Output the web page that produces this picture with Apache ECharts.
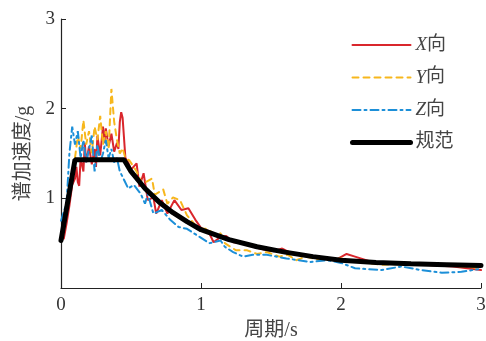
<!DOCTYPE html>
<html>
<head>
<meta charset="utf-8">
<script src="https://cdn.jsdelivr.net/npm/echarts@6/dist/echarts.min.js"></script>
<style>
  html, body { margin: 0; padding: 0; background: #fff; }
  #chart { width: 486px; height: 341px; }
</style>
</head>
<body>
<div id="chart"></div>
<script>
// [周期 s, 谱加速度 g]
const seriesX = [[0.02,0.55],[0.04,0.72],[0.06,0.92],[0.08,1.15],[0.1,1.22],[0.11,1.35],[0.12,1.18],[0.13,1.14],[0.14,1.45],[0.16,1.3],[0.17,1.62],[0.18,1.4],[0.2,1.58],[0.22,1.38],[0.24,1.55],[0.25,1.35],[0.26,1.7],[0.28,1.48],[0.3,1.8],[0.31,1.62],[0.32,1.78],[0.34,1.58],[0.36,1.72],[0.38,1.52],[0.4,1.62],[0.41,1.55],[0.42,1.85],[0.43,1.96],[0.44,1.9],[0.46,1.45],[0.48,1.4],[0.5,1.32],[0.54,1.39],[0.56,1.13],[0.59,1.28],[0.62,0.98],[0.66,1.01],[0.68,0.83],[0.72,0.98],[0.76,0.83],[0.81,0.98],[0.86,0.87],[0.91,0.89],[0.96,0.76],[1.0,0.67],[1.05,0.64],[1.09,0.51],[1.14,0.57],[1.18,0.58],[1.23,0.51],[1.3,0.5],[1.37,0.46],[1.47,0.42],[1.52,0.41],[1.58,0.44],[1.63,0.4],[1.71,0.37],[1.8,0.35],[1.9,0.33],[1.97,0.32],[2.04,0.38],[2.1,0.35],[2.22,0.29],[2.4,0.27],[2.6,0.26],[2.8,0.24],[2.9,0.22],[3.0,0.2]];
const seriesY = [[0.04,0.85],[0.06,1.1],[0.08,1.3],[0.1,1.45],[0.12,1.7],[0.14,1.55],[0.16,1.87],[0.18,1.6],[0.2,1.75],[0.22,1.5],[0.24,1.8],[0.26,1.65],[0.28,1.92],[0.3,1.6],[0.32,1.75],[0.34,1.55],[0.36,2.22],[0.38,1.85],[0.4,1.65],[0.42,1.5],[0.44,1.56],[0.46,1.45],[0.49,1.42],[0.54,1.3],[0.58,1.16],[0.65,1.22],[0.67,1.04],[0.73,1.1],[0.76,0.94],[0.8,1.01],[0.85,0.98],[0.9,0.81],[0.96,0.7],[1.0,0.66],[1.04,0.66],[1.1,0.6],[1.14,0.61],[1.17,0.5],[1.25,0.42],[1.33,0.42],[1.4,0.38],[1.47,0.4],[1.56,0.35],[1.62,0.37],[1.68,0.31],[1.75,0.35],[1.85,0.31],[2.0,0.33],[2.1,0.29],[2.3,0.26],[2.5,0.27],[2.7,0.25],[2.9,0.24],[3.0,0.22]];
const seriesZ = [[0.0,0.75],[0.02,0.85],[0.04,0.95],[0.06,1.5],[0.08,1.8],[0.1,1.6],[0.12,1.75],[0.14,1.45],[0.16,1.65],[0.18,1.4],[0.2,1.55],[0.22,1.7],[0.24,1.3],[0.26,1.6],[0.28,1.4],[0.3,1.5],[0.32,1.65],[0.34,1.45],[0.36,1.55],[0.38,1.4],[0.4,1.45],[0.42,1.3],[0.44,1.24],[0.48,1.11],[0.52,1.15],[0.57,1.05],[0.6,0.94],[0.62,1.05],[0.66,0.83],[0.72,0.87],[0.78,0.76],[0.84,0.68],[0.9,0.66],[0.99,0.57],[1.06,0.5],[1.14,0.53],[1.17,0.46],[1.23,0.4],[1.3,0.35],[1.37,0.37],[1.47,0.37],[1.61,0.33],[1.78,0.29],[1.9,0.31],[2.0,0.28],[2.1,0.22],[2.29,0.2],[2.43,0.24],[2.57,0.2],[2.72,0.17],[2.86,0.18],[2.98,0.21]];
const seriesCode = [[0,0.53],[0.1,1.43],[0.45,1.43],[0.5,1.3],[0.6,1.11],[0.7,0.96],[0.8,0.84],[0.9,0.74],[1.0,0.65],[1.2,0.54],[1.4,0.46],[1.6,0.4],[1.8,0.35],[2.0,0.31],[2.25,0.285],[2.5,0.27],[2.75,0.26],[3.0,0.25]];

const names = ['X向', 'Y向', 'Z向', '规范'];
const colors = ['#d9262c', '#f7b71d', '#1c8fd8', '#000000'];
const serif = 'Liberation Serif, Noto Sans CJK SC';

const chart = echarts.init(document.getElementById('chart'));

function line(name, data, color, width, type) {
  return {
    name: name,
    type: 'line',
    data: data,
    symbol: 'none',
    color: color,
    lineStyle: { color: color, width: width, type: type, cap: 'round' },
    z: name === '规范' ? 5 : 2
  };
}

chart.setOption({
  animation: false,
  grid: { left: 61, right: 5, top: 19, bottom: 53, outerBoundsMode: 'none' },
  legend: {
    orient: 'vertical',
    left: 350,
    top: 35,
    padding: 0,
    itemWidth: 58,
    itemHeight: 20,
    itemGap: 12.5,
    data: names,
    itemStyle: { opacity: 0 },
    lineStyle: { width: 'inherit' },
    formatter: n => n === '规范' ? n : '{i|' + n[0] + '}向',
    textStyle: {
      fontSize: 19,
      lineHeight: 20,
      color: '#444',
      fontFamily: serif,
      rich: { i: { fontStyle: 'italic', fontSize: 19, lineHeight: 20, fontFamily: 'Liberation Serif', color: '#444' } }
    }
  },
  xAxis: {
    type: 'value',
    min: 0, max: 3, interval: 1,
    name: '周期/s',
    nameLocation: 'middle',
    nameGap: 33,
    nameTextStyle: { fontSize: 20, color: '#444', fontFamily: serif },
    axisLine: { lineStyle: { color: '#222', width: 1.2 } },
    axisTick: { inside: true, length: 5, lineStyle: { color: '#222' } },
    axisLabel: { fontSize: 19, color: '#333', fontFamily: 'Liberation Serif', margin: 8 },
    splitLine: { show: false }
  },
  yAxis: {
    type: 'value',
    min: 0, max: 3, interval: 1,
    name: '谱加速度/g',
    nameLocation: 'middle',
    nameGap: 27,
    nameTextStyle: { fontSize: 20, color: '#444', fontFamily: serif },
    axisLine: { show: true, lineStyle: { color: '#222', width: 1.2 } },
    axisTick: { inside: true, length: 5, lineStyle: { color: '#222' } },
    axisLabel: { fontSize: 19, color: '#333', fontFamily: 'Liberation Serif', margin: 6,
      formatter: v => v === 0 ? '' : v },
    splitLine: { show: false }
  },
  series: [
    line(names[0], seriesX, colors[0], 2, 'solid'),
    line(names[1], seriesY, colors[1], 2, [6, 5]),
    line(names[2], seriesZ, colors[2], 2, [8, 4, 2, 4]),
    line(names[3], seriesCode, colors[3], 5, 'solid')
  ]
});
</script>
</body>
</html>
